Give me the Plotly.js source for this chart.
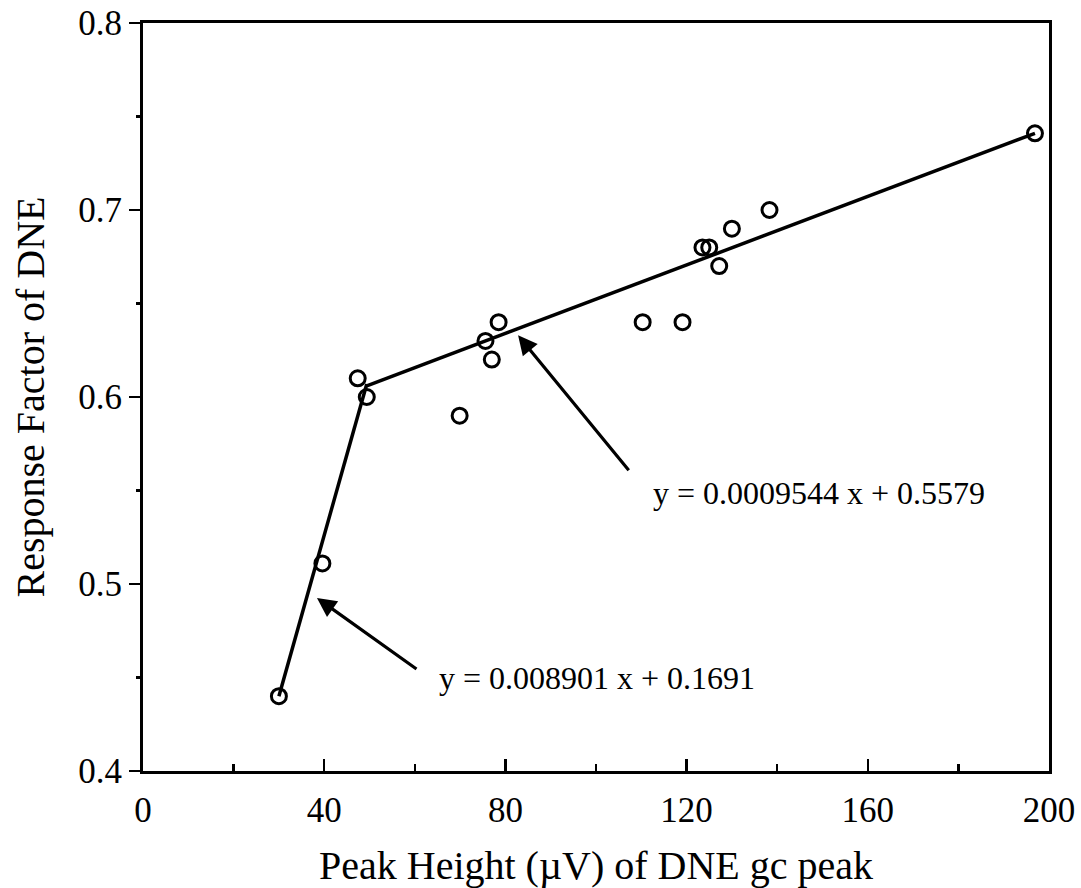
<!DOCTYPE html>
<html>
<head>
<meta charset="utf-8">
<script src="https://cdn.plot.ly/plotly-3.0.1.min.js"></script>
<style>html,body{margin:0;padding:0;background:#fff;}#chart{width:1081px;height:888px;}</style>
</head>
<body>
<div id="chart"></div>
<script>
// Measured data points
const peakHeight = [30.0, 39.6, 47.4, 49.4, 69.9, 75.6, 77.0, 78.5, 110.3, 119.1, 123.5, 125.0, 127.2, 130.0, 138.3, 196.9];
const responseFactor = [0.440, 0.511, 0.610, 0.600, 0.590, 0.630, 0.620, 0.640, 0.640, 0.640, 0.680, 0.680, 0.670, 0.690, 0.700, 0.741];

// Fitted segments (endpoints)
const fit1X = [30.0, 49.4];
const fit1Y = [0.440, 0.607];
const fit2X = [49.4, 196.9];
const fit2Y = [0.606, 0.741];

// Equation labels
const eq1Text = 'y = 0.008901 x + 0.1691';
const eq2Text = 'y = 0.0009544 x + 0.5579';
const eq1Pos = [100.2, 0.4497];
const eq2Pos = [149.2, 0.5487];
// arrows: [tailX, tailY, headX, headY]
const arrow1 = [60.7, 0.454, 38.4, 0.4925];
const arrow2 = [107.5, 0.560, 82.8, 0.633];

const xTicks = [0, 40, 80, 120, 160, 200];
const yTicks = [0.4, 0.5, 0.6, 0.7, 0.8];
const yTickText = ['0.4', '0.5', '0.6', '0.7', '0.8'];

const FONT = '"Liberation Serif", "Times New Roman", serif';

const traces = [
  {x: fit1X, y: fit1Y, mode: 'lines', line: {color: '#000', width: 3.5}, hoverinfo: 'skip', showlegend: false},
  {x: fit2X, y: fit2Y, mode: 'lines', line: {color: '#000', width: 3.5}, hoverinfo: 'skip', showlegend: false},
  {x: peakHeight, y: responseFactor, mode: 'markers',
   marker: {symbol: 'circle-open', size: 15, color: '#000', line: {width: 3, color: '#000'}},
   showlegend: false}
];

function arrowAnn(a) {
  return {x: a[2], y: a[3], ax: a[0], ay: a[1], xref: 'x', yref: 'y', axref: 'x', ayref: 'y',
    text: '', showarrow: true, arrowhead: 2, arrowsize: 1.2, arrowwidth: 3.2, arrowcolor: '#000'};
}

const layout = {
  width: 1081, height: 888,
  margin: {l: 143, r: 32, t: 23, b: 117},
  paper_bgcolor: '#fff', plot_bgcolor: '#fff',
  font: {family: FONT, color: '#000', size: 32},
  showlegend: false,
  xaxis: {
    range: [0, 200], tickvals: xTicks, ticktext: xTicks.map(String),
    ticks: 'inside', ticklen: 12, tickwidth: 2.5, tickcolor: '#000',
    minor: {dtick: 20, ticks: 'inside', ticklen: 7, tickwidth: 2.5, tickcolor: '#000'},
    showline: true, linewidth: 3, linecolor: '#000', mirror: true,
    showgrid: false, zeroline: false, ticklabelstandoff: 6,
    tickfont: {family: FONT, size: 35, color: '#000'},
    title: {text: 'Peak Height (\u00B5V) of DNE gc peak', font: {family: FONT, size: 40, color: '#000'}, standoff: 22}
  },
  yaxis: {
    range: [0.4, 0.8], tickvals: yTicks, ticktext: yTickText,
    ticks: 'outside', ticklen: 11, tickwidth: 2.5, tickcolor: '#000',
    minor: {dtick: 0.05, ticks: 'outside', ticklen: 4, tickwidth: 2.5, tickcolor: '#000'},
    showline: true, linewidth: 3, linecolor: '#000', mirror: true,
    showgrid: false, zeroline: false,
    tickfont: {family: FONT, size: 35, color: '#000'},
    title: {text: 'Response Factor of DNE', font: {family: FONT, size: 40, color: '#000'}, standoff: 22}
  },
  annotations: [
    arrowAnn(arrow1), arrowAnn(arrow2),
    {x: eq1Pos[0], y: eq1Pos[1], xref: 'x', yref: 'y', text: eq1Text, showarrow: false,
     font: {family: FONT, size: 32, color: '#000'}},
    {x: eq2Pos[0], y: eq2Pos[1], xref: 'x', yref: 'y', text: eq2Text, showarrow: false,
     font: {family: FONT, size: 32, color: '#000'}}
  ]
};

Plotly.newPlot('chart', traces, layout, {displayModeBar: false, staticPlot: true});
</script>
</body>
</html>
